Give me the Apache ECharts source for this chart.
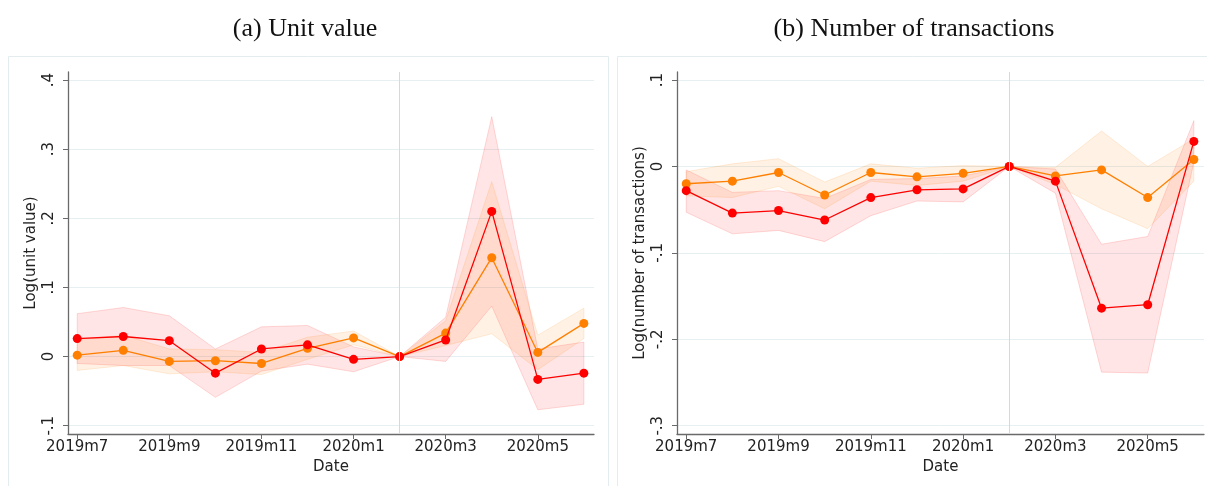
<!DOCTYPE html>
<html>
<head>
<meta charset="utf-8">
<title>Event study: unit value and number of transactions</title>
<script src="https://cdn.jsdelivr.net/npm/echarts@6/dist/echarts.min.js"></script>
<style>
  html, body { margin: 0; padding: 0; background: #ffffff; }
  #chart { width: 1207px; height: 486px; }
</style>
</head>
<body>
<div id="chart"></div>
<script>
// Monthly periods (x categories), 2020m2 is the reference month
const months = ['2019m7', '2019m8', '2019m9', '2019m10', '2019m11', '2019m12',
                '2020m1', '2020m2', '2020m3', '2020m4', '2020m5', '2020m6'];
const xTickIdx = [0, 2, 4, 6, 8, 10];
const refMonth = 7;

// Panel (a): log unit value — coefficients with 95% bands
const uvRed      = [0.026, 0.029, 0.023, -0.024, 0.011, 0.017, -0.004, 0, 0.024, 0.210, -0.033, -0.024];
const uvRedLo    = [-0.010, -0.013, -0.013, -0.059, -0.021, -0.011, -0.022, 0, -0.007, 0.073, -0.077, -0.069];
const uvRedHi    = [0.062, 0.071, 0.059, 0.011, 0.043, 0.045, 0.014, 0, 0.057, 0.347, 0.011, 0.021];
const uvOrange   = [0.002, 0.009, -0.007, -0.006, -0.010, 0.012, 0.027, 0, 0.034, 0.143, 0.006, 0.048];
const uvOrangeLo = [-0.020, -0.013, -0.025, -0.022, -0.026, -0.004, 0.017, 0, 0.016, 0.033, -0.019, 0.026];
const uvOrangeHi = [0.024, 0.031, 0.011, 0.010, 0.006, 0.028, 0.037, 0, 0.052, 0.253, 0.031, 0.070];
const uvTicks = [-0.1, 0, 0.1, 0.2, 0.3, 0.4];
const uvTickLabels = ['-.1', '0', '.1', '.2', '.3', '.4'];

// Panel (b): log number of transactions — coefficients with 95% bands
const ntRed      = [-0.028, -0.054, -0.051, -0.062, -0.036, -0.027, -0.026, 0, -0.017, -0.164, -0.160, 0.029];
const ntRedLo    = [-0.053, -0.078, -0.074, -0.087, -0.057, -0.040, -0.041, 0, -0.031, -0.238, -0.239, 0.005];
const ntRedHi    = [-0.004, -0.030, -0.028, -0.037, -0.015, -0.014, -0.011, 0, -0.003, -0.090, -0.081, 0.053];
const ntOrange   = [-0.020, -0.017, -0.007, -0.033, -0.007, -0.012, -0.008, 0, -0.011, -0.004, -0.036, 0.008];
const ntOrangeLo = [-0.034, -0.036, -0.023, -0.049, -0.017, -0.022, -0.017, 0, -0.021, -0.049, -0.072, -0.017];
const ntOrangeHi = [-0.006, 0.003, 0.009, -0.018, 0.003, -0.002, 0.001, 0, -0.001, 0.041, 0.000, 0.032];
const ntTicks = [-0.3, -0.2, -0.1, 0, 0.1];
const ntTickLabels = ['-.3', '-.2', '-.1', '0', '.1'];

const RED = '#ff0000';
const ORANGE = '#ff7f00';
const AXIS = '#6a6a6a';
const GRIDLINE = '#e6eff1';
const FONT = 'DejaVu Sans';

const pairs = arr => arr.map((v, i) => [i, v]);

// Confidence band: one filled polygon running along the upper bound and back along the lower bound
function bandSeries(gi, name, lo, hi, rgb) {
  return {
    type: 'custom', name: name, xAxisIndex: gi, yAxisIndex: gi,
    silent: true, z: 1,
    data: lo.map((v, i) => [i, v, hi[i]]),
    encode: { x: 0, y: [1, 2] },
    renderItem: function (params, api) {
      if (params.dataIndex !== 0) return null;
      const pts = [];
      for (let i = 0; i < hi.length; i++) pts.push(api.coord([i, hi[i]]));
      for (let i = lo.length - 1; i >= 0; i--) pts.push(api.coord([i, lo[i]]));
      return {
        type: 'polygon',
        shape: { points: pts },
        style: { fill: 'rgba(' + rgb + ',0.10)', stroke: 'rgba(' + rgb + ',0.14)', lineWidth: 1 }
      };
    }
  };
}

function pointSeries(gi, name, vals, color, z) {
  return {
    type: 'line', name: name, xAxisIndex: gi, yAxisIndex: gi,
    data: pairs(vals), symbol: 'circle', symbolSize: 9, z: z,
    itemStyle: { color: color }, lineStyle: { color: color, width: 1.3 },
    silent: true
  };
}

function xAxisFor(gi) {
  return {
    gridIndex: gi, type: 'value', min: -0.2, max: 11.22,
    name: 'Date', nameLocation: 'middle', nameGap: 24,
    nameTextStyle: { fontFamily: FONT, fontSize: 15, color: '#222' },
    axisLine: { show: true, onZero: false, lineStyle: { color: AXIS, width: 1.3 } },
    axisTick: { show: true, length: 5, customValues: xTickIdx, lineStyle: { color: AXIS, width: 1 } },
    axisLabel: {
      customValues: xTickIdx, margin: 6,
      fontFamily: FONT, fontSize: 15, color: '#222',
      formatter: v => months[Math.round(v)]
    },
    splitLine: { show: false }
  };
}

function yAxisFor(gi, ticks, labels, min, max, title) {
  return {
    gridIndex: gi, type: 'value', min: min, max: max,
    name: title, nameLocation: 'middle', nameGap: 29,
    nameTextStyle: { fontFamily: FONT, fontSize: 15, color: '#222' },
    axisLine: { show: true, onZero: false, lineStyle: { color: AXIS, width: 1.3 } },
    axisTick: { show: true, length: 5, customValues: ticks, lineStyle: { color: AXIS, width: 1 } },
    axisLabel: {
      customValues: ticks, rotate: 90, margin: 11,
      fontFamily: FONT, fontSize: 15, color: '#222',
      formatter: v => {
        let best = 0;
        ticks.forEach((t, i) => { if (Math.abs(t - v) < Math.abs(ticks[best] - v)) best = i; });
        return labels[best];
      }
    },
    splitLine: { show: true, lineStyle: { color: GRIDLINE, width: 1 } }
  };
}

function refLine() {
  return {
    silent: true, symbol: 'none', label: { show: false },
    lineStyle: { color: '#d6d9dc', width: 1, type: 'solid' },
    data: [{ xAxis: refMonth }]
  };
}

function panelSeries(gi, red, redLo, redHi, orange, orangeLo, orangeHi) {
  const orangeLine = pointSeries(gi, 'orange', orange, ORANGE, 3);
  orangeLine.markLine = refLine();
  return [
    bandSeries(gi, 'redband', redLo, redHi, '255,0,0'),
    bandSeries(gi, 'orangeband', orangeLo, orangeHi, '255,127,0'),
    orangeLine,
    pointSeries(gi, 'red', red, RED, 4)
  ];
}

const chart = echarts.init(document.getElementById('chart'), null, { renderer: 'canvas' });

const option = {
  animation: false,
  backgroundColor: '#ffffff',
  grid: [
    { left: 68, top: 72, width: 526, height: 362 },
    { left: 677, top: 72, width: 527, height: 362 }
  ],
  xAxis: [xAxisFor(0), xAxisFor(1)],
  yAxis: [
    yAxisFor(0, uvTicks, uvTickLabels, -0.112, 0.4116, 'Log(unit value)'),
    yAxisFor(1, ntTicks, ntTickLabels, -0.3096, 0.1093, 'Log(number of transactions)')
  ],
  graphic: [
    { type: 'rect', shape: { x: 8.5, y: 56.5, width: 600, height: 440 }, silent: true, z: -10,
      style: { fill: 'none', stroke: '#e3ecee', lineWidth: 1 } },
    { type: 'rect', shape: { x: 617.5, y: 56.5, width: 600, height: 440 }, silent: true, z: -10,
      style: { fill: 'none', stroke: '#e3ecee', lineWidth: 1 } },
    { type: 'text', x: 305, y: 29, silent: true,
      style: { text: '(a) Unit value', textAlign: 'center', textVerticalAlign: 'middle',
               font: '26px "Liberation Serif"', fill: '#111' } },
    { type: 'text', x: 914, y: 29, silent: true,
      style: { text: '(b) Number of transactions', textAlign: 'center', textVerticalAlign: 'middle',
               font: '26px "Liberation Serif"', fill: '#111' } }
  ],
  series: [].concat(
    panelSeries(0, uvRed, uvRedLo, uvRedHi, uvOrange, uvOrangeLo, uvOrangeHi),
    panelSeries(1, ntRed, ntRedLo, ntRedHi, ntOrange, ntOrangeLo, ntOrangeHi)
  )
};

chart.setOption(option);
</script>
</body>
</html>
